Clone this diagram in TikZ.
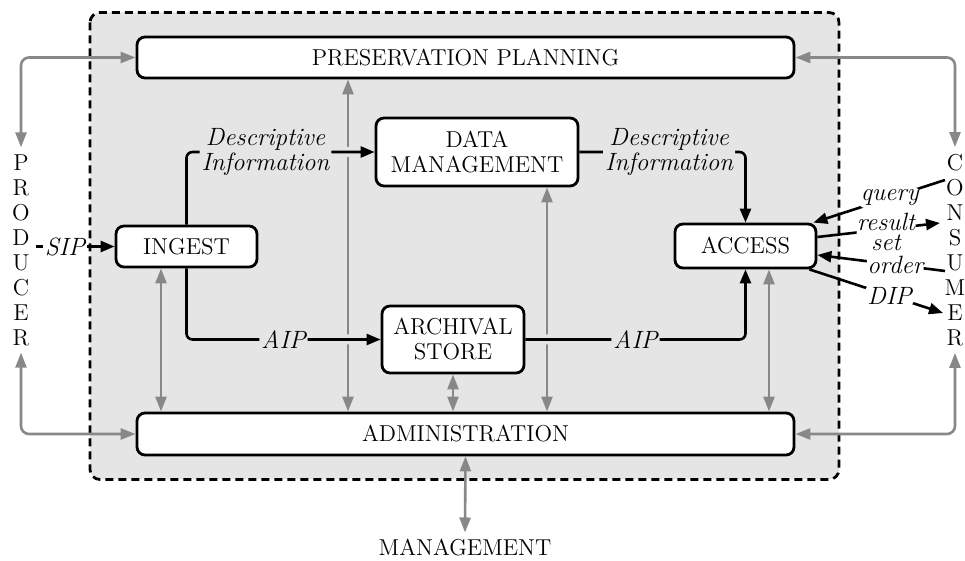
\documentclass[tikz,border=0pt]{standalone}
\usepackage{tikz}
\usetikzlibrary{arrows.meta}
\definecolor{panelgray}{RGB}{229,229,229}
\definecolor{linkgray}{RGB}{136,136,136}

\begin{document}
\begin{tikzpicture}[x=0.5pt, y=-0.5pt, font=\fontsize{11.5}{12.5}\selectfont,
    unitbox/.style={draw, line width=1.4pt, rounded corners=4pt, fill=white, align=center, inner sep=0pt},
    flow/.style={line width=1.3pt, rounded corners=3pt, -{Triangle[length=7pt,width=5.5pt]}},
    cross/.style={preaction={draw, panelgray, line width=5pt, -, shorten <=3pt, shorten >=3pt}},
    link/.style={linkgray, line width=1.3pt, rounded corners=4pt, {Triangle[length=7.5pt,width=5.5pt]}-{Triangle[length=7.5pt,width=5.5pt]}},
    tag/.style={font=\fontsize{12.5}{12.5}\selectfont\itshape, inner sep=1pt, fill=panelgray, align=center},
    outtag/.style={tag, fill=white}]
    \useasboundingbox (0,0) rectangle (965,561);
    \draw[line width=1.4pt, dash pattern=on 4pt off 2.5pt, rounded corners=5pt, fill=panelgray] (90,12.5) rectangle (839,479.5);

    \node [unitbox, minimum width=328.5pt, minimum height=20.5pt] (plan) at (465.5,57.5) {PRESERVATION PLANNING};
    \node [unitbox, minimum width=328.5pt, minimum height=21pt] (admin) at (465.5,434) {ADMINISTRATION};
    \node [unitbox, minimum width=70.5pt, minimum height=20.5pt] (ingest) at (186.5,246.5) {INGEST};
    \node [unitbox, minimum width=101pt, minimum height=34pt] (datamgmt) at (477,152) {DATA\\MANAGEMENT};
    \node [unitbox, minimum width=71pt, minimum height=33.5pt] (store) at (453,339.5) {ARCHIVAL\\STORE};
    \node [unitbox, minimum width=70.5pt, minimum height=22pt] (access) at (745.5,246) {ACCESS};

    \node [align=center] (producer) at (21,250) {P\\R\\O\\D\\U\\C\\E\\R};
    \node [align=center] (consumer) at (955,250) {C\\O\\N\\S\\U\\M\\E\\R};
    \node (mgmt) at (465,548) {MANAGEMENT};

    \draw[link] (producer.north) |- (plan.west);
    \draw[link] (producer.south) |- (admin.west);
    \draw[link] (consumer.north) |- (plan.east);
    \draw[link] (consumer.south) |- (admin.east);
    \draw[link] (161,0 |- ingest.south) -- (161,0 |- admin.north);
    \draw[link] (348,0 |- plan.south) -- (348,0 |- admin.north);
    \draw[link] (547,0 |- datamgmt.south) -- (547,0 |- admin.north);
    \draw[link] (store.south) -- (store.south |- admin.north);
    \draw[link] (769,0 |- access.south) -- (769,0 |- admin.north);
    \draw[link] (admin.south) -- (mgmt.north);

    \draw[flow, cross] (ingest.north) |- node[tag, pos=0.71] {Descriptive\\Information} (datamgmt.west);
    \draw[flow, cross] (datamgmt.east) -| node[tag, pos=0.27] {Descriptive\\Information} (access.north);
    \draw[flow, cross] (ingest.south) |- node[tag, pos=0.75] {AIP} (store.west);
    \draw[flow, cross] (store.east) -| node[tag, pos=0.25] {AIP} (access.south);

    \coordinate (sipfrom) at (36,246.5);
    \coordinate (queryfrom) at (945,180);
    \coordinate (resultto) at (940,223);
    \coordinate (orderfrom) at (945,271);
    \coordinate (dipto) at (943,313);
    \draw[flow] (sipfrom) -- node[outtag, pos=0.37] {SIP} (ingest.west);
    \draw[flow] (queryfrom) -- node[outtag, pos=0.42] {query} ([xshift=-2pt]access.north east);
    \draw[flow] ([yshift=4.5pt]access.east) -- node[outtag, pos=0.56, inner sep=0.3pt, yshift=-1.5pt] {result\\[-2.5pt]set} (resultto);
    \draw[flow] (orderfrom) -- node[outtag, pos=0.39, inner sep=0.3pt] {order} ([yshift=-4.5pt]access.east);
    \draw[flow] ([xshift=-4pt]access.south east) -- node[outtag, pos=0.6] {DIP} (dipto);
\end{tikzpicture}
\end{document}
